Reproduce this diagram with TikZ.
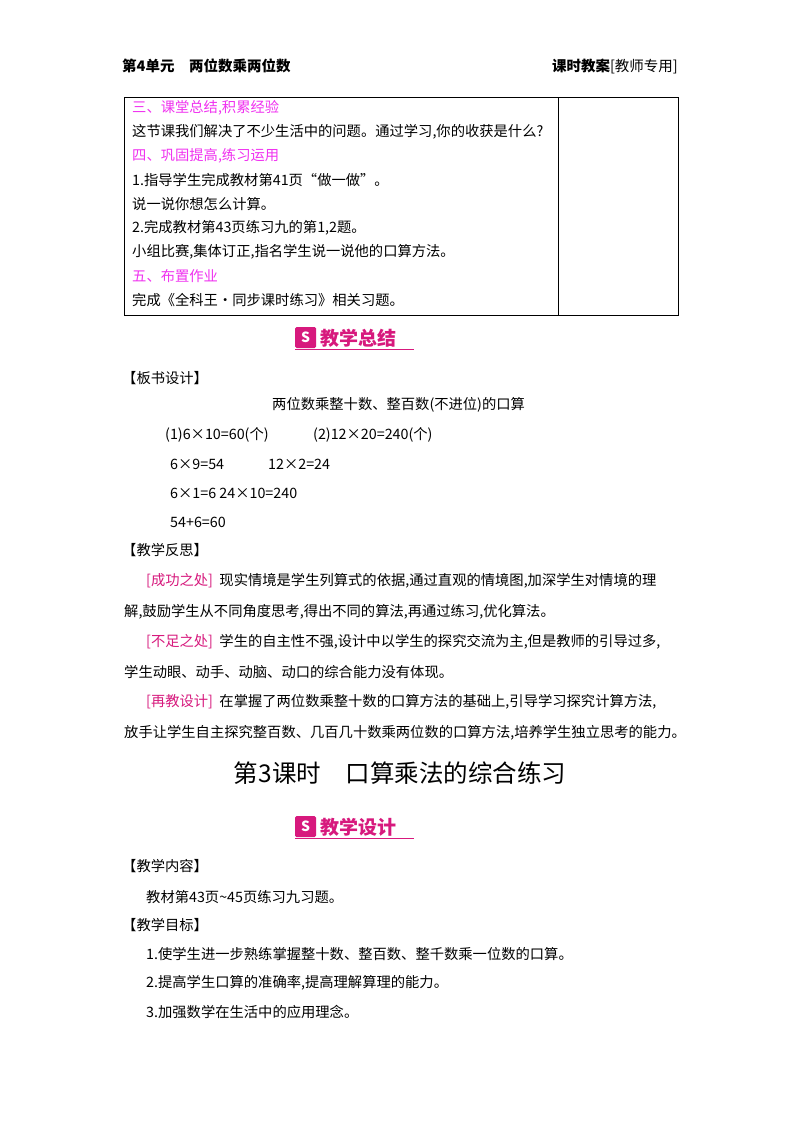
\documentclass[tikz,border=0pt]{standalone}
\usepackage{fontspec}
\setmainfont{Noto Sans CJK SC}
\definecolor{mag}{RGB}{240,50,240}
\definecolor{ban}{RGB}{215,25,125}
\begin{document}
\begin{tikzpicture}[x=1pt,y=-1pt,
  t/.style={anchor=west,inner sep=0pt,font=\fontsize{14.3}{16}\selectfont},
  h/.style={t,text=mag},
  bt/.style={anchor=west,inner sep=0pt,text=ban,font=\fontsize{19}{20}\selectfont\bfseries}]
\useasboundingbox (0,0) rectangle (800,1132);
\fill[white] (0,0) rectangle (800,1132);
\node[t,font=\fontsize{14.5}{16}\selectfont\bfseries] (hl) at (122,66) {第4单元\quad 两位数乘两位数};
\node[anchor=east,inner sep=0pt,font=\fontsize{14.5}{16}\selectfont] (hr) at (678,66) {\textbf{课时教案}[教师专用]};
\draw[line width=0.8pt] (124,97) rectangle (678,315);
\draw[line width=0.6pt] (558,97) -- (558,315);
\node[h] (r1) at (132,108) {三、课堂总结,积累经验};
\node[t] (r2) at (132,132) {这节课我们解决了不少生活中的问题。通过学习,你的收获是什么?};
\node[h] (r3) at (132,156) {四、巩固提高,练习运用};
\node[t] (r4) at (132,180) {1.指导学生完成教材第41页“做一做”。};
\node[t] (r5) at (132,204) {说一说你想怎么计算。};
\node[t] (r6) at (132,228) {2.完成教材第43页练习九的第1,2题。};
\node[t] (r7) at (132,252) {小组比赛,集体订正,指名学生说一说他的口算方法。};
\node[h] (r8) at (132,276) {五、布置作业};
\node[t] (r9) at (132,300) {完成《全科王·同步课时练习》相关习题。};
% banner 1
\fill[ban,rounded corners=1.5pt] (295,327) rectangle (316,348);
\node[text=white,inner sep=0pt,font=\bfseries\fontsize{14}{14}\selectfont] (i1) at (305.5,337.5) {S};
\node[bt] (b1) at (320,338) {教学总结};
\draw[ban,line width=0.6pt] (295,349.5) -- (414,349.5);
\node[t] (s1) at (122,378) {【板书设计】};
\node[t] (s2) at (272,405) {两位数乘整十数、整百数(不进位)的口算};
\node[t] (s3) at (165,435) {(1)6×10=60(个)};
\node[t] (s4) at (313,435) {(2)12×20=240(个)};
\node[t] (s5) at (170,464) {6×9=54};
\node[t] (s6) at (268,464) {12×2=24};
\node[t] (s7) at (170,493) {6×1=6\ 24×10=240};
\node[t] (s8) at (170,522) {54+6=60};
\node[t] (s9) at (122,550) {【教学反思】};
\node[t] (f1) at (146,581) {\textcolor{ban}{[成功之处]}\ \ 现实情境是学生列算式的依据,通过直观的情境图,加深学生对情境的理};
\node[t] (f2) at (124,612) {解,鼓励学生从不同角度思考,得出不同的算法,再通过练习,优化算法。};
\node[t] (f3) at (146,642) {\textcolor{ban}{[不足之处]}\ \ 学生的自主性不强,设计中以学生的探究交流为主,但是教师的引导过多,};
\node[t] (f4) at (124,672) {学生动眼、动手、动脑、动口的综合能力没有体现。};
\node[t] (f5) at (146,702) {\textcolor{ban}{[再教设计]}\ \ 在掌握了两位数乘整十数的口算方法的基础上,引导学习探究计算方法,};
\node[t] (f6) at (124,733) {放手让学生自主探究整百数、几百几十数乘两位数的口算方法,培养学生独立思考的能力。};
\node[anchor=center,inner sep=0pt,font=\fontsize{24.5}{26}\selectfont] (title) at (400,773) {第3课时\quad 口算乘法的综合练习};
% banner 2
\fill[ban,rounded corners=1.5pt] (295,816) rectangle (316,837);
\node[text=white,inner sep=0pt,font=\bfseries\fontsize{14}{14}\selectfont] (i2) at (305.5,826.5) {S};
\node[bt] (b2) at (320,827) {教学设计};
\draw[ban,line width=0.6pt] (295,838.5) -- (414,838.5);
\node[t] (d1) at (122,866) {【教学内容】};
\node[t] (d2) at (146,897) {教材第43页\~{}45页练习九习题。};
\node[t] (d3) at (122,925) {【教学目标】};
\node[t] (d4) at (146,954) {1.使学生进一步熟练掌握整十数、整百数、整千数乘一位数的口算。};
\node[t] (d5) at (146,983) {2.提高学生口算的准确率,提高理解算理的能力。};
\node[t] (d6) at (146,1012) {3.加强数学在生活中的应用理念。};
\end{tikzpicture}
\end{document}
